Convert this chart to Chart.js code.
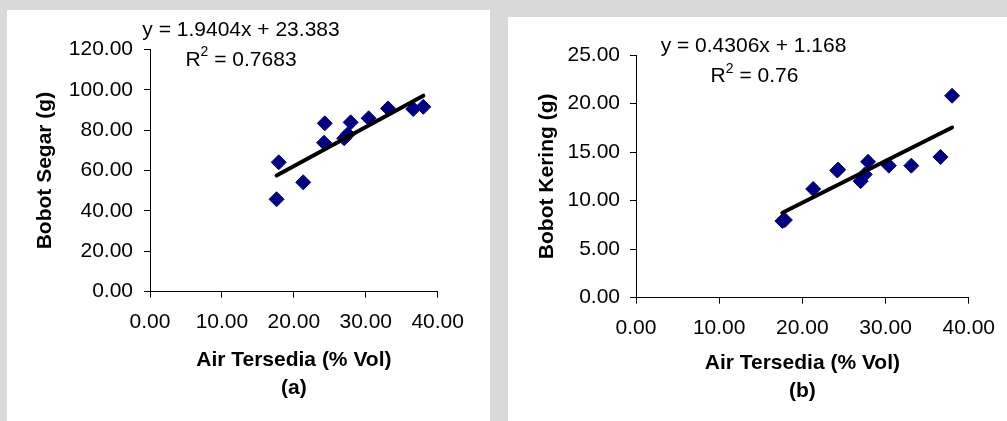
<!DOCTYPE html>
<html>
<head>
<meta charset="utf-8">
<script src="https://cdn.jsdelivr.net/npm/chart.js@4.4.0/dist/chart.umd.min.js"></script>
<style>
  html, body { margin: 0; padding: 0; }
  body { width: 1007px; height: 421px; background: #d9d9d9; position: relative; overflow: hidden; }
  .panel { position: absolute; background: #fff; }
  #pa { left: 7px; top: 10px; width: 483px; height: 411px; }
  #pb { left: 508px; top: 17px; width: 499px; height: 404px; }
</style>
</head>
<body>
<div class="panel" id="pa"><canvas id="chartA" width="483" height="411"></canvas></div>
<div class="panel" id="pb"><canvas id="chartB" width="499" height="404"></canvas></div>
<script>
// Air tersedia (% Vol) for each sample
const airTersedia = [17.6, 17.9, 21.3, 24.2, 24.3, 27.0, 27.5, 27.9, 30.4, 33.1, 36.6, 38.0];
// Bobot segar (g)
const bobotSegar = [45.8, 64.1, 54.2, 73.8, 83.4, 76.0, 78.0, 83.9, 85.9, 90.8, 90.5, 91.6];
// Bobot kering (g)
const bobotKering = [7.9, 8.0, 11.2, 13.1, 13.2, 12.0, 12.7, 14.0, 13.6, 13.6, 14.5, 20.8];

// regression shown on the chart: [slope, intercept]
const trendSegar = [1.9404, 23.383];
const trendKering = [0.4306, 1.168];
const r2Segar = '0.7683';
const r2Kering = '0.76';

const xTicks = [0, 10, 20, 30, 40];

const FONT = "'Liberation Sans', Arial, sans-serif";
Chart.defaults.font.family = FONT;
Chart.defaults.font.size = 21;
Chart.defaults.color = '#000';

function points(ys) {
  return airTersedia.map((x, i) => ({ x: x, y: ys[i] }));
}

function trendLine(coef) {
  const lo = Math.min(...airTersedia);
  const hi = Math.max(...airTersedia);
  return [{ x: lo, y: coef[0] * lo + coef[1] }, { x: hi, y: coef[0] * hi + coef[1] }];
}

// draws the equation and R² text above the plot
const equationPlugin = {
  id: 'equation',
  afterDraw(chart, args, opts) {
    const ctx = chart.ctx;
    const big = '21px ' + FONT, small = '14px ' + FONT;
    ctx.save();
    ctx.fillStyle = '#000';
    ctx.textBaseline = 'middle';
    ctx.font = big;
    ctx.textAlign = 'center';
    ctx.fillText(opts.line1, opts.x1, opts.y1);

    ctx.textAlign = 'left';
    const rest = ' = ' + opts.r2;
    const wR = ctx.measureText('R').width;
    const wRest = ctx.measureText(rest).width;
    ctx.font = small;
    const w2 = ctx.measureText('2').width;
    const x = opts.x2 - (wR + w2 + wRest) / 2;
    ctx.font = big;
    ctx.fillText('R', x, opts.y2);
    ctx.font = small;
    ctx.fillText('2', x + wR, opts.y2 - 8);
    ctx.font = big;
    ctx.fillText(rest, x + wR + w2, opts.y2);
    ctx.restore();
  }
};

function makeChart(id, cfg) {
  return new Chart(document.getElementById(id), {
    type: 'scatter',
    data: {
      datasets: [{
        data: trendLine(cfg.coef),
        showLine: true,
        borderColor: '#000',
        borderWidth: 4,
        borderCapStyle: 'round',
        pointRadius: 0
      }, {
        data: points(cfg.ys),
        pointStyle: 'rectRot',
        pointRadius: 7.5,
        backgroundColor: '#000080',
        borderColor: '#000080',
        borderWidth: 1
      }]
    },
    options: {
      responsive: false,
      animation: false,
      events: [],
      layout: { padding: cfg.padding },
      plugins: {
        legend: { display: false },
        tooltip: { enabled: false },
        equation: cfg.eq
      },
      scales: {
        x: {
          type: 'linear',
          min: 0,
          max: 40,
          afterBuildTicks: s => { s.ticks = xTicks.map(v => ({ value: v })); },
          afterFit: s => { s.height = cfg.xHeight; },
          grid: { drawOnChartArea: false, tickLength: 6, color: '#000' },
          border: { color: '#000', width: 1 },
          ticks: { padding: 12, callback: v => v.toFixed(2) },
          title: {
            display: true,
            text: ['Air Tersedia (% Vol)', cfg.tag],
            font: { weight: 'bold', size: 21, lineHeight: 1.333 },
            padding: 0
          }
        },
        y: {
          min: 0,
          max: cfg.yMax,
          afterBuildTicks: s => { s.ticks = cfg.yTicks.map(v => ({ value: v })); },
          afterFit: s => { s.width = cfg.yWidth; },
          grid: { drawOnChartArea: false, tickLength: 6, color: '#000' },
          border: { color: '#000', width: 1 },
          ticks: { padding: cfg.yPad, callback: v => v.toFixed(2) },
          title: {
            display: true,
            text: cfg.yTitle,
            font: { weight: 'bold', size: 21, lineHeight: 1.333 },
            padding: 0
          }
        }
      }
    },
    plugins: [equationPlugin]
  });
}

makeChart('chartA', {
  ys: bobotSegar,
  coef: trendSegar,
  yMax: 120,
  yTicks: [0, 20, 40, 60, 80, 100, 120],
  yTitle: 'Bobot Segar (g)',
  tag: '(a)',
  padding: { left: 24, top: 39.5, right: 52.3, bottom: 19 },
  yWidth: 119,
  xHeight: 110.3,
  yPad: 11,
  eq: { line1: 'y = 1.9404x + 23.383', x1: 234, y1: 20, r2: r2Segar, x2: 234, y2: 50 }
});

makeChart('chartB', {
  ys: bobotKering,
  coef: trendKering,
  yMax: 25,
  yTicks: [0, 5, 10, 15, 20, 25],
  yTitle: 'Bobot Kering (g)',
  tag: '(b)',
  padding: { left: 25, top: 38, right: 38, bottom: 16 },
  yWidth: 103,
  xHeight: 107.3,
  yPad: 10,
  eq: { line1: 'y = 0.4306x + 1.168', x1: 245.5, y1: 29.7, r2: r2Kering, x2: 246.5, y2: 59.7 }
});
</script>
</body>
</html>
